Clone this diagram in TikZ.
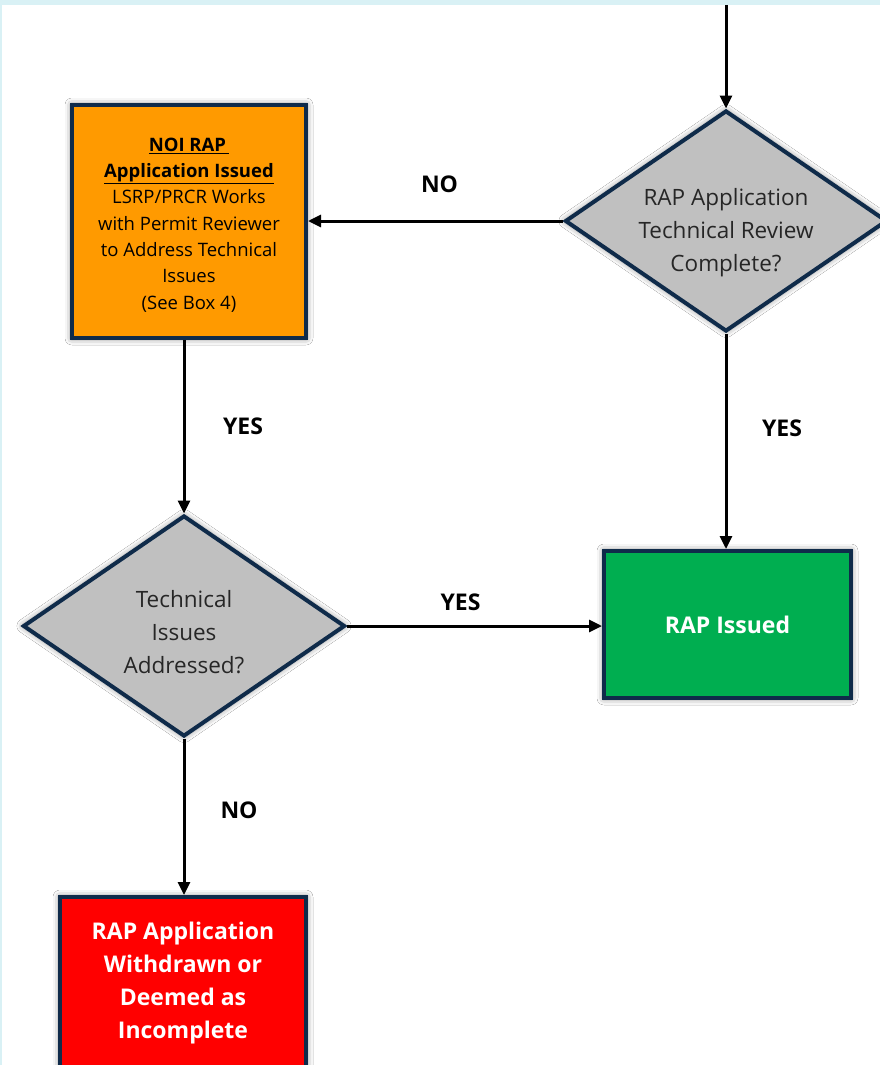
\documentclass[tikz,border=0pt]{standalone}
\usepackage{fontspec}
\setmainfont{Open Sans}
\usepackage{xcolor}
\usepackage{tikz}
\usetikzlibrary{arrows.meta,positioning,shapes.geometric,shadows.blur}
\definecolor{navy}{HTML}{0F2B4A}
\definecolor{frameblue}{HTML}{D9F1F5}
\definecolor{boxorange}{HTML}{FF9A00}
\definecolor{boxgreen}{HTML}{00AE50}
\definecolor{boxgray}{HTML}{C0C0C0}
\definecolor{txtgray}{HTML}{262626}
\begin{document}
\begin{tikzpicture}[x=1pt,y=-1pt,
box/.style={rectangle,draw=navy,line width=4pt,align=center,inner sep=0pt,
 blur shadow={shadow xshift=0pt,shadow yshift=0pt,shadow blur radius=7pt,shadow opacity=55}},
decide/.style={diamond,aspect=1.45,draw=navy,line width=4pt,fill=boxgray,inner sep=0pt,
 minimum width=322pt,minimum height=221pt,
 blur shadow={shadow xshift=0pt,shadow yshift=0pt,shadow blur radius=7pt,shadow opacity=55}},
ask/.style={align=center,inner sep=0pt,text=txtgray,font=\fontsize{22.5}{33}\selectfont},
flow/.style={line width=3pt,-{Triangle[length=13pt,width=12pt]}},
lbl/.style={font=\fontsize{23}{26}\selectfont\bfseries}]
\useasboundingbox (0,0) rectangle (880,1065);
\clip (0,0) rectangle (880,1065);
\fill[frameblue] (0,0) rectangle (880,1065);
\fill[white] (2,5) rectangle (880,1065);
\node[decide] (review) at (726,221) {};
\node[ask] (reviewtext) at (726,233) {RAP Application\\Technical Review\\Complete?};
\node[box,fill=boxorange,minimum width=234pt,minimum height=233pt] (noi) at (189,221.5) {};
\node[align=center,inner sep=0pt,font=\fontsize{18.5}{26.3}\selectfont] (noitext) at (189,225)
 {{\bfseries\underline{NOI RAP\,}}\\{\bfseries\underline{Application Issued}}\\LSRP/PRCR Works\\with Permit Reviewer\\to Address Technical\\Issues\\(See Box 4)};
\node[decide] (addressed) at (184,626) {};
\node[ask] (addressedtext) at (184,632) {Technical\\Issues\\Addressed?};
\node[box,fill=boxgreen,text=white,minimum width=247pt,minimum height=147pt,
 font=\fontsize{23}{33}\selectfont\bfseries] (issued) at (727.5,624.5) {RAP Issued};
\node[box,fill=red,text=white,minimum width=246pt,minimum height=172pt,
 font=\fontsize{23}{33}\selectfont\bfseries] (withdrawn) at (183,983)
 {RAP Application\\Withdrawn or\\Deemed as\\Incomplete};
\coordinate (entry) at (726,5);
\draw[flow] (entry) -- (review.north);
\draw[flow] (review.west) -- node[lbl,xshift=4pt,yshift=37pt]{NO} (noi.east |- review.west);
\draw[flow] (noi.south -| addressed.north) -- node[lbl,xshift=59pt,yshift=0pt]{YES} (addressed.north);
\draw[flow] (review.south) -- node[lbl,xshift=56pt,yshift=13pt]{YES} (issued.north -| review.south);
\draw[flow] (addressed.east) -- node[lbl,xshift=-14pt,yshift=24pt]{YES} (issued.west |- addressed.east);
\draw[flow] (addressed.south) -- node[lbl,xshift=55pt,yshift=6pt]{NO} (withdrawn.north -| addressed.south);
\end{tikzpicture}
\end{document}
